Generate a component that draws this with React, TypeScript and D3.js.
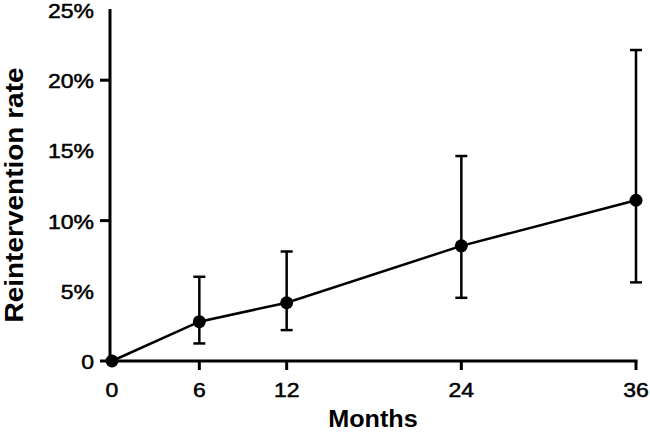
import React from "react";
import * as d3 from "d3";

const months = [0, 6, 12, 24, 36];
const rate = [0, 2.8, 4.15, 8.2, 11.45];
const lower = [0, 1.25, 2.2, 4.5, 5.6];
const upper = [0, 6.0, 7.8, 14.6, 22.15];
const yTickLabels = [0, 5, 10, 15, 20, 25];
const yMajorTicks = [0, 10, 20];
const xTicks = [0, 6, 12, 24, 36];

const W = 650;
const H = 433;
const FONT = "'Liberation Sans', Arial, sans-serif";

export default function App() {
  const x = d3.scaleLinear().domain([0, 36]).range([112, 636]);
  const y = d3.scaleLinear().domain([0, 25]).range([361, 10]);
  const line = d3
    .line<number>()
    .x((_, i) => x(months[i]))
    .y((d) => y(d));
  const axisX0 = 110;
  const tickStyle = {
    fontFamily: FONT,
    fontSize: 20,
    fill: "#000",
    stroke: "#000",
    strokeWidth: 0.5,
  } as const;
  return (
    <svg
      width={W}
      height={H}
      style={{ position: "absolute", left: 0, top: 0, background: "#fff" }}
    >
      {/* y axis */}
      <line x1={axisX0} x2={axisX0} y1={y(25) - 1} y2={y(0) + 1.5} stroke="#000" strokeWidth={3} />
      {yMajorTicks.map((t) => (
        <line key={"ym" + t} x1={axisX0 - 10} x2={axisX0} y1={y(t)} y2={y(t)} stroke="#000" strokeWidth={3} />
      ))}
      {yTickLabels.map((t) => (
        <g key={"yl" + t} transform={`translate(94,${y(t) + 8}) scale(1.15,1)`}>
          <text textAnchor="end" {...tickStyle}>
            {t === 0 ? "0" : `${t}%`}
          </text>
        </g>
      ))}
      {/* x axis */}
      <line x1={axisX0 - 1.5} x2={x(36) + 1.5} y1={y(0)} y2={y(0)} stroke="#000" strokeWidth={3} />
      {xTicks.map((t) =>
        t === 0 ? null : (
          <line key={"xt" + t} x1={x(t)} x2={x(t)} y1={y(0)} y2={y(0) + 9} stroke="#000" strokeWidth={3} />
        )
      )}
      {xTicks.map((t) => (
        <g key={"xl" + t} transform={`translate(${x(t)},397) scale(1.15,1)`}>
          <text textAnchor="middle" {...tickStyle}>
            {t}
          </text>
        </g>
      ))}
      <g transform="translate(373,427) scale(1.05,1)">
        <text textAnchor="middle" fontFamily={FONT} fontWeight="bold" fontSize={24} fill="#000">
          Months
        </text>
      </g>
      <g transform="translate(23,195) rotate(-90) scale(1.12,1)">
        <text textAnchor="middle" fontFamily={FONT} fontWeight="bold" fontSize={25} fill="#000">
          Reintervention rate
        </text>
      </g>
      {/* error bars */}
      {months.map((m, i) =>
        upper[i] === lower[i] ? null : (
          <g key={"eb" + m} stroke="#000" strokeWidth={2.5}>
            <line x1={x(m)} x2={x(m)} y1={y(upper[i])} y2={y(lower[i])} />
            <line x1={x(m) - 6} x2={x(m) + 6} y1={y(upper[i])} y2={y(upper[i])} />
            <line x1={x(m) - 6} x2={x(m) + 6} y1={y(lower[i])} y2={y(lower[i])} />
          </g>
        )
      )}
      <path d={line(rate) || ""} fill="none" stroke="#000" strokeWidth={2.5} />
      {months.map((m, i) => (
        <circle key={"pt" + m} cx={x(m)} cy={y(rate[i])} r={6.5} fill="#000" />
      ))}
    </svg>
  );
}
